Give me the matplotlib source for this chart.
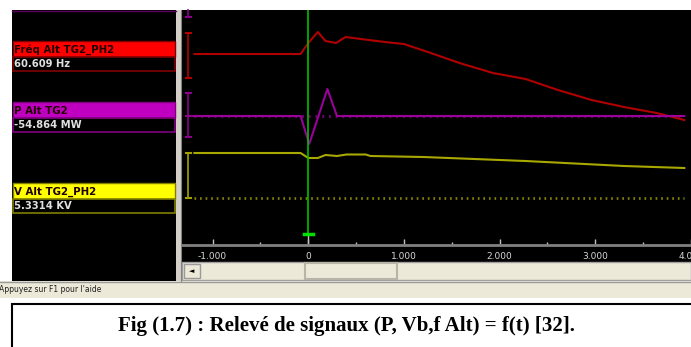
import matplotlib
matplotlib.use("Agg")
import matplotlib.pyplot as plt
from matplotlib.patches import Rectangle
from matplotlib.ticker import MultipleLocator

W, H = 691, 347

# Trace positions (rows from the top of the window)
t_freq = [-1.19, -0.08, 0.0, 0.10, 0.18, 0.29, 0.39, 0.55, 0.80, 1.00,
          1.28, 1.58, 1.93, 2.27, 2.61, 2.96, 3.30, 3.64, 3.93]
freq = [54, 54, 43, 32, 41, 43, 37, 39, 42, 44,
        53, 63, 73, 79, 90, 100, 107, 113, 120]

t_p = [-1.19, -0.08, 0.01, 0.20, 0.30, 3.93]
p = [116, 116, 144, 89, 116, 116]

t_v = [-1.19, -0.08, 0.0, 0.10, 0.18, 0.30, 0.40, 0.60, 0.65, 1.20, 2.27, 3.30, 3.93]
v = [153, 153, 158, 158, 155, 156, 154.5, 154.5, 156, 157, 161, 166, 168]

channels = ["Fréq Alt TG2_PH2", "P Alt TG2", "V Alt TG2_PH2"]
readings = ["60.609 Hz", "-54.864 MW", "5.3314 KV"]
ch_colors = ["#ff0000", "#c000c0", "#ffff00"]
ch_borders = ["#800000", "#800080", "#808000"]
ch_rows = [41, 102, 183]

ticks = [-1, 0, 1, 2, 3, 4]
tick_labels = ["-1.000", "0", "1.000", "2.000", "3.000", "4.000"]

fig = plt.figure(figsize=(W / 100, H / 100), dpi=100)
fig.patch.set_facecolor("white")

# window chrome in pixel coordinates
bg = fig.add_axes([0, 0, 1, 1])
bg.set_xlim(0, W)
bg.set_ylim(H, 0)
bg.axis("off")

bg.add_patch(Rectangle((12, 10), 164, 271, fc="black", ec="none"))
bg.plot([12, 176], [10.5, 10.5], color="#600060", lw=1)
bg.add_patch(Rectangle((176, 10), 6, 271, fc="#d4d0c8", ec="none"))
bg.plot([181.5, 181.5], [10, 281], color="#808080", lw=0.8)
bg.add_patch(Rectangle((182, 10), W - 182, 252, fc="black", ec="none"))

# scrollbar
bg.add_patch(Rectangle((182, 262), W - 182, 18, fc="#ece9d8", ec="#a0a0a0", lw=1))
bg.add_patch(Rectangle((184, 264), 16, 14, fc="#ece9d8", ec="#9a9a9a", lw=1))
bg.text(192, 271.5, "◄", ha="center", va="center", fontsize=5, color="black")
bg.add_patch(Rectangle((305, 263), 92, 16, fc="#ece9d8", ec="#b8b4a8", lw=1.5))

# status bar
bg.add_patch(Rectangle((0, 281), W, 17, fc="#ece9d8", ec="none"))
bg.plot([0, W], [281.5, 281.5], color="#9a9a9a", lw=1)
bg.text(-1, 290, "Appuyez sur F1 pour l'aide", ha="left", va="center",
        fontsize=5.5, color="#202020")

# caption box
bg.add_patch(Rectangle((12, 304), W, 50, fc="white", ec="black", lw=1.5))
bg.text(346, 326, "Fig (1.7) : Relevé de signaux (P, Vb,f Alt) = f(t) [32].",
        ha="center", va="center", fontsize=15, fontweight="bold",
        family="Liberation Serif", color="black")

# channel labels on the left
for name, val, c, bc, row in zip(channels, readings, ch_colors, ch_borders, ch_rows):
    bg.add_patch(Rectangle((13, row), 162, 16, fc=c, ec=bc, lw=1))
    bg.add_patch(Rectangle((13, row + 16), 162, 14, fc="black", ec=bc, lw=1.2))
    bg.text(14, row + 8.5, name, ha="left", va="center", fontsize=7.4,
            fontweight="bold", color="#200000")
    bg.text(14, row + 23, val, ha="left", va="center", fontsize=7.2,
            fontweight="bold", color="#e0e0e0")

# vertical scale bars next to each trace
bars = [(33, 78, "#b00000"), (93, 137, "#8a008a"), (153, 198, "#a0a000")]
for y0, y1, c in bars:
    bg.plot([188.5, 188.5], [y0, y1], color=c, lw=1.2)
    bg.plot([186, 191], [y0, y0], color=c, lw=1.5)
    bg.plot([186, 191], [y1, y1], color=c, lw=1.5)
bg.plot([186, 195], [116, 116], color="#8a008a", lw=1.5)
bg.plot([188.5, 188.5], [10, 17], color="#8a008a", lw=1.2)
bg.plot([186, 191], [17, 17], color="#8a008a", lw=1.5)

# traces
ax = fig.add_axes([182 / W, (H - 245) / H, (W - 182) / W, 235 / H])
ax.set_facecolor("none")
ax.set_xlim((182 - 310) / 97, (W - 310) / 97)
ax.set_ylim(245, 10)

ax.plot([-1.19, 3.93], [116, 116], color="#700070", lw=2.2, ls=(0, (0.6, 1.6)))
ax.plot([-1.19, 3.93], [198, 198], color="#808000", lw=2.0, ls=(0, (0.6, 1.4)))

ax.plot(t_freq, freq, color="#b00000", lw=1.5)
ax.plot(t_p, p, color="#9a009a", lw=1.5)
ax.plot(t_v, v, color="#a8a800", lw=1.5)

# cursor
ax.plot([0, 0], [10, 234], color="#00c000", lw=1.2)
ax.plot([0, 0], [234, 245], color="#c0c0c0", lw=1)
ax.plot([-0.04, 0.05], [234, 234], color="#00e000", lw=2.5)

for s in ["top", "left", "right"]:
    ax.spines[s].set_visible(False)
ax.spines["bottom"].set_color("#808080")
ax.spines["bottom"].set_linewidth(2)
ax.set_yticks([])
ax.set_xticks(ticks)
ax.set_xticklabels(tick_labels)
ax.xaxis.set_minor_locator(MultipleLocator(0.5))
ax.tick_params(axis="x", which="major", direction="in", length=4, width=1,
               color="#c0c0c0", labelcolor="#d8d8d8", labelsize=6.5, pad=5)
ax.tick_params(axis="x", which="minor", direction="in", length=2, width=1,
               color="#c0c0c0")

fig.savefig("out.png", dpi=100, facecolor=fig.get_facecolor())
